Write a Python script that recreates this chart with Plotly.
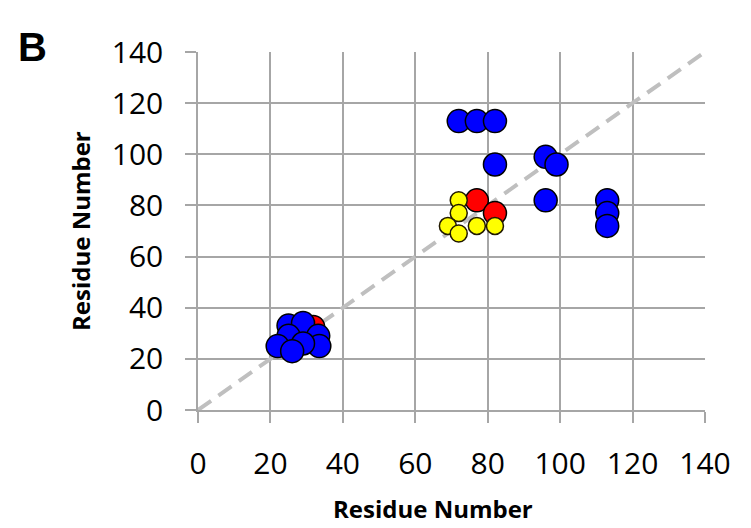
import plotly.graph_objects as go

# Data
red_x = [31.8, 77, 82]
red_y = [32.5, 82, 77]
yellow_x = [72, 72, 69, 72, 77, 82]
yellow_y = [82, 77, 72, 69, 72, 72]
blue_x = [25, 29, 33.2, 25, 33.5, 22, 29, 26, 72, 77, 82, 82, 96, 99, 96, 113, 113, 113]
blue_y = [33, 34, 29, 29, 25, 25, 26, 23, 113, 113, 113, 96, 99, 96, 82, 82, 77, 72]
diag = [0, 140]
ticks = [0, 20, 40, 60, 80, 100, 120, 140]

FONT = "Open Sans"
GRID = "#A6A6A6"

fig = go.Figure()
fig.add_trace(go.Scatter(x=diag, y=diag, mode="lines",
                         line=dict(color="#BFBFBF", width=4, dash="16px,9px"),
                         hoverinfo="skip"))
fig.add_trace(go.Scatter(x=red_x, y=red_y, mode="markers",
                         marker=dict(color="#FF0000", size=23, line=dict(color="black", width=1.5))))
fig.add_trace(go.Scatter(x=yellow_x, y=yellow_y, mode="markers",
                         marker=dict(color="#FFFF00", size=17, line=dict(color="#201800", width=1.5))))
fig.add_trace(go.Scatter(x=blue_x, y=blue_y, mode="markers",
                         marker=dict(color="#0000FF", size=23, line=dict(color="black", width=1.5))))

axis_common = dict(range=[0, 140], tickvals=ticks, ticktext=[str(t) for t in ticks],
                   showgrid=True, gridcolor=GRID, gridwidth=1.5,
                   showline=True, linecolor=GRID, linewidth=1.5,
                   ticks="outside", ticklen=11, tickcolor=GRID, tickwidth=1.5,
                   zeroline=False, tickfont=dict(family=FONT, size=30, color="black"))

fig.update_layout(
    width=751, height=528,
    margin=dict(l=198, r=46, t=52, b=118),
    plot_bgcolor="white", paper_bgcolor="white",
    showlegend=False,
    xaxis=dict(**axis_common, ticklabelstandoff=15),
    yaxis=dict(**axis_common, ticklabelstandoff=16),
    annotations=[
        dict(text="<b>Residue Number</b>", x=433, y=528 - 508, xref="paper", yref="paper",
             showarrow=False, font=dict(family=FONT, size=24, color="black")),
        dict(text="<b>Residue Number</b>", x=80, y=528 - 231, textangle=-90, showarrow=False,
             font=dict(family=FONT, size=24, color="black")),
        dict(text="<b>B</b>", x=32, y=528 - 47, showarrow=False,
             font=dict(family="Liberation Sans", size=40, color="black")),
    ],
)

# convert pixel positions for annotations into paper coordinates
pw = 751 - 198 - 46
ph = 528 - 52 - 118
for a in fig.layout.annotations:
    a.xref = "paper"
    a.yref = "paper"
    a.x = (a.x - 198) / pw
    a.y = (a.y - 118) / ph
    a.xanchor = "center"
    a.yanchor = "middle"

fig.write_html("out.html")
